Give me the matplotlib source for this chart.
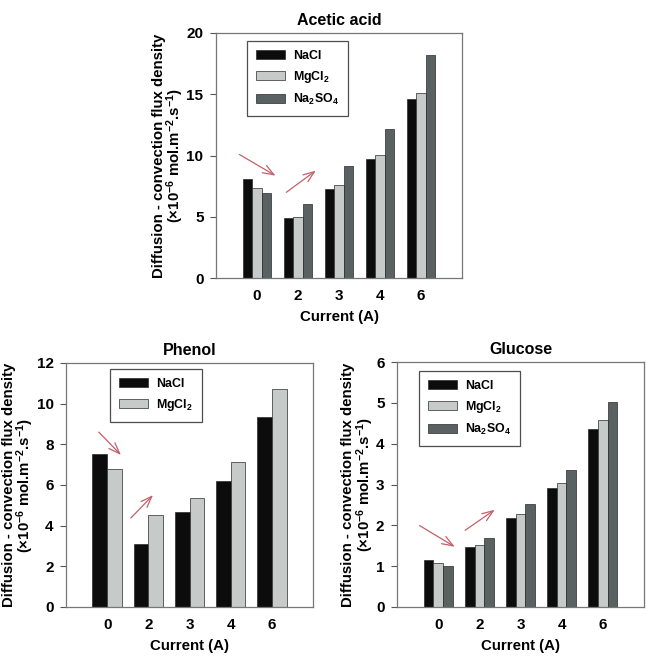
import matplotlib
matplotlib.use("Agg")
import matplotlib.pyplot as plt
import numpy as np

plt.rcParams['font.family'] = ['Liberation Sans', 'DejaVu Sans']
plt.rcParams['font.weight'] = 'bold'
plt.rcParams['mathtext.fontset'] = 'custom'
plt.rcParams['mathtext.rm'] = 'Liberation Sans:bold'
plt.rcParams['mathtext.bf'] = 'Liberation Sans:bold'
plt.rcParams['mathtext.default'] = 'bf'

currents = ["0", "2", "3", "4", "6"]
salts = ["NaCl", "MgCl$_2$", "Na$_2$SO$_4$"]

acetic_nacl = [8.08, 4.86, 7.28, 9.71, 14.6]
acetic_mgcl2 = [7.31, 4.99, 7.56, 10.07, 15.09]
acetic_na2so4 = [6.96, 6.06, 9.11, 12.14, 18.17]

phenol_nacl = [7.52, 3.10, 4.66, 6.20, 9.33]
phenol_mgcl2 = [6.77, 4.51, 5.34, 7.13, 10.7]

glucose_nacl = [1.14, 1.46, 2.18, 2.91, 4.37]
glucose_mgcl2 = [1.08, 1.53, 2.28, 3.04, 4.57]
glucose_na2so4 = [1.00, 1.68, 2.53, 3.35, 5.03]

colors = ["#0c0c0c", "#c6cac9", "#5a6161"]
arrow_color = "#c4606a"

W, H = 646, 658
fig = plt.figure(figsize=(W / 100, H / 100), dpi=100)


def make_ax(x0, y0, x1, y1):
    # pixel box -> figure fraction
    return fig.add_axes([x0 / W, 1 - y1 / H, (x1 - x0) / W, (y1 - y0) / H])


def draw(ax, title, series, ymax, ystep, arrows, legend_pos):
    n = len(series)
    group = 0.70 if n == 3 else 0.72
    w = group / n
    x = np.arange(len(currents))
    handles = []
    for i, vals in enumerate(series):
        off = (i - (n - 1) / 2) * w
        b = ax.bar(x + off, vals, w, color=colors[i], edgecolor="#2a2a2a", linewidth=0.5)
        handles.append(b)
    ax.set_xlim(-1, 5)
    ax.set_ylim(0, ymax)
    ax.set_xticks(x)
    ax.set_xticklabels(currents)
    ax.set_yticks(np.arange(0, ymax + 0.01, ystep))
    ax.tick_params(axis="x", length=0, pad=8, labelsize=11)
    ax.tick_params(axis="y", direction="out", length=4, width=0.8, labelsize=11,
                   color="#555555", pad=5)
    for s in ax.spines.values():
        s.set_color("#777777")
        s.set_linewidth(0.9)
    ax.set_title(title, fontsize=11.5, fontweight="bold", pad=6)
    ax.set_xlabel("Current (A)", fontsize=10.8, fontweight="bold", labelpad=5)
    ax.set_ylabel("Diffusion - convection flux density\n(\u00d710$^{-6}$ mol.m$^{-2}$.s$^{-1}$)",
                  fontsize=10.8, fontweight="bold", linespacing=0.95, labelpad=0)
    for (xa, ya, xb, yb) in arrows:
        ax.annotate("", xy=(xb, yb), xytext=(xa, ya),
                    arrowprops=dict(arrowstyle="->,head_length=0.8,head_width=0.3",
                                    color=arrow_color, lw=0.9))
    leg = ax.legend(handles, salts[:n], loc="upper left", fontsize=8.9,
                    bbox_to_anchor=legend_pos, frameon=True, fancybox=False,
                    handlelength=2.3, handleheight=0.75, labelspacing=0.55,
                    borderpad=0.75, handletextpad=0.65, borderaxespad=0)
    leg.get_frame().set_edgecolor("#222222")
    leg.get_frame().set_linewidth(0.9)


ax1 = make_ax(216, 33, 462, 278)
draw(ax1, "Acetic acid", [acetic_nacl, acetic_mgcl2, acetic_na2so4], 20, 5,
     [(-0.49, 10.2, 0.51, 8.24), (0.66, 6.86, 1.49, 8.9)],
     ((247 - 216) / 246, (278 - 41) / 245))

ax2 = make_ax(66, 363, 313, 607)
draw(ax2, "Phenol", [phenol_nacl, phenol_mgcl2], 12, 2,
     [(-0.25, 8.7, 0.38, 7.38), (0.53, 4.28, 1.16, 5.6)],
     ((110 - 66) / 247, (607 - 369) / 244))

ax3 = make_ax(397, 362, 644, 607)
draw(ax3, "Glucose", [glucose_nacl, glucose_mgcl2, glucose_na2so4], 6, 1,
     [(-0.51, 2.03, 0.46, 1.44), (0.60, 1.84, 1.43, 2.42)],
     ((419 - 397) / 247, (607 - 371) / 245))

fig.savefig("out.png", dpi=100)
